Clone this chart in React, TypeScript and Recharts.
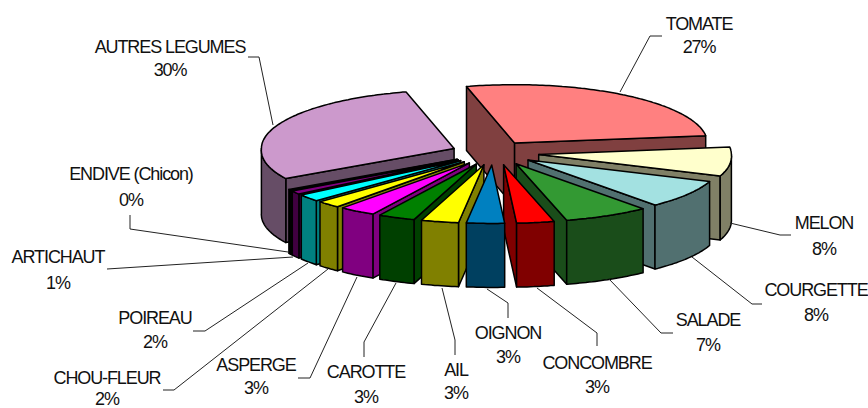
import React from 'react';
import { Pie, PieChart } from 'recharts';

// clockwise from the left corner of the big slice
const CATEGORIES = [
  'AUTRES LEGUMES', 'TOMATE', 'MELON', 'COURGETTE', 'SALADE', 'CONCOMBRE', 'OIGNON',
  'AIL', 'CAROTTE', 'ASPERGE', 'CHOU-FLEUR', 'POIREAU', 'ARTICHAUT', 'ENDIVE (Chicon)',
];
const VALUES = [29.6, 27, 8, 8, 7, 3, 3, 3, 3, 3, 2, 2, 1, 0.4];
const TOP_COLORS = [
  '#cc99cc', '#ff8080', '#ffffcc', '#a3e1e1', '#339933', '#ff0000', '#0080c0',
  '#ffff00', '#008000', '#ff00ff', '#ffff00', '#00ffff', '#800080', '#000000',
];
const SIDE_COLORS = [
  '#664d66', '#804040', '#808066', '#517070', '#1a4d1a', '#800000', '#004060',
  '#808000', '#004000', '#800080', '#808000', '#008080', '#400040', '#000000',
];

const rows = CATEGORIES.map((name, i) => ({
  name,
  value: VALUES[i],
  topColor: TOP_COLORS[i],
  sideColor: SIDE_COLORS[i],
}));

// text centre x, two line centres y, leader polyline
const LABEL_LAYOUT: Record<string, { x: number; y1: number; y2: number; line: string }> = {
  TOMATE: { x: 699, y1: 24, y2: 47, line: '620,92 650,36 662,36' },
  'AUTRES LEGUMES': { x: 170, y1: 47, y2: 70, line: '273,125 259,57 248,57' },
  'ENDIVE (Chicon)': { x: 131, y1: 174, y2: 200, line: '130,215 130,229 288,252' },
  ARTICHAUT: { x: 58, y1: 257, y2: 283, line: '107,269 293,257' },
  POIREAU: { x: 155, y1: 318, y2: 342, line: '193,331 205,331 308,263' },
  'CHOU-FLEUR': { x: 107, y1: 378, y2: 399, line: '163,390 174,390 328,269' },
  ASPERGE: { x: 256, y1: 365, y2: 388, line: '298,378 310,378 357,277' },
  CAROTTE: { x: 366, y1: 372, y2: 397, line: '364,357 364,342 396,283' },
  AIL: { x: 456, y1: 370, y2: 393, line: '455,355 455,340 442,288' },
  OIGNON: { x: 508, y1: 333, y2: 357, line: '508,318 508,303 487,289' },
  CONCOMBRE: { x: 597, y1: 363, y2: 387, line: '597,346 597,333 537,288' },
  SALADE: { x: 708, y1: 320, y2: 345, line: '673,333 661,333 609,279' },
  COURGETTE: { x: 816, y1: 290, y2: 315, line: '762,304 752,304 692,257' },
  MELON: { x: 824, y1: 223, y2: 249, line: '791,235 780,235 730,223' },
};

// small sideways corrections of the exploded slices
const NUDGE: Record<string, number> = { TOMATE: -2, MELON: 4, COURGETTE: 1, SALADE: 4, CONCOMBRE: 4 };

const TILT = 0.285;
const DEPTH = 64;
const EXPLODE = 42;
const SQUEEZE = 0.06; // the far half of the pie is a bit narrower
const START = -149; // recharts angle of the big slice's first edge
const FIRST_FRONT = CATEGORIES.indexOf('OIGNON');

const rad = (d: number) => (d * Math.PI) / 180;

function Slice3D(props: any, visible: (name: string) => boolean) {
  const { cx, cy, outerRadius: r, startAngle, endAngle } = props;
  const row = props.payload ?? props;
  if (!visible(row.name)) return <g />;

  // degrees clockwise from the top of the pie
  const a = 90 - Math.max(startAngle, endAngle);
  const b = 90 - Math.min(startAngle, endAngle);
  const mid = (a + b) / 2;
  const ox = cx + EXPLODE * Math.sin(rad(mid)) + (NUDGE[row.name] ?? 0);
  const oy = cy - EXPLODE * TILT * Math.cos(rad(mid));
  const rim = (d: number, drop = 0) => {
    const far = Math.sqrt(Math.min(1, 1 + Math.cos(rad(d))));
    return [
      ox + r * (1 - SQUEEZE * far) * Math.sin(rad(d)),
      oy - r * TILT * Math.cos(rad(d)) + drop,
    ];
  };
  const arc = (from: number, to: number, drop = 0) => {
    const pts = [];
    const n = Math.max(2, Math.ceil(Math.abs(to - from)));
    for (let i = 0; i <= n; i++) pts.push(rim(from + ((to - from) * i) / n, drop));
    return pts;
  };
  const poly = (pts: number[][]) => pts.map((p) => p.map((v) => v.toFixed(1)).join(',')).join(' ');
  const norm = (d: number) => ((d % 360) + 360) % 360;
  const style = { stroke: '#000', strokeWidth: 1.5, strokeLinejoin: 'round' as const };

  const faces = [];
  if (Math.sin(rad(a)) < 0) {
    faces.push([[ox, oy], rim(a), rim(a, DEPTH), [ox, oy + DEPTH]]);
  }
  if (Math.sin(rad(b)) > 0) {
    faces.push([[ox, oy], rim(b), rim(b, DEPTH), [ox, oy + DEPTH]]);
  }
  const shift = norm(a) - a;
  const wallFrom = Math.max(a + shift, 90);
  const wallTo = Math.min(b + shift, 270);

  return (
    <g>
      {faces.map((pts, i) => (
        <polygon key={i} points={poly(pts)} fill={row.sideColor} {...style} />
      ))}
      {wallTo > wallFrom && (
        <polygon
          points={poly([...arc(wallFrom, wallTo), ...arc(wallTo, wallFrom, DEPTH)])}
          fill={row.sideColor}
          {...style}
        />
      )}
      <polygon points={poly([[ox, oy], ...arc(a, b)])} fill={row.topColor} {...style} />
    </g>
  );
}

function renderLabel(props: any) {
  const spot = LABEL_LAYOUT[props.name];
  const textStyle = {
    fontFamily: '"Liberation Sans", Arial, sans-serif',
    fontSize: 18,
    letterSpacing: -1.1,
    fill: '#111',
  };
  return (
    <g key={props.name}>
      <polyline points={spot.line} fill="none" stroke="#222" strokeWidth={1} />
      <text x={spot.x} y={spot.y1} textAnchor="middle" dominantBaseline="central" {...textStyle}>
        {props.name}
      </text>
      <text x={spot.x} y={spot.y2} textAnchor="middle" dominantBaseline="central" {...textStyle}>
        {Math.round(props.value)}%
      </text>
    </g>
  );
}

export default function App() {
  return (
    <div style={{ position: 'absolute', left: 0, top: 0, width: 868, height: 408, background: '#fff' }}>
      <PieChart width={868} height={408} margin={{ top: 0, right: 0, bottom: 0, left: 0 }}>
        {/* back and right side, clockwise */}
        <Pie
          data={rows}
          dataKey="value"
          nameKey="name"
          cx={493}
          cy={153}
          outerRadius={205}
          startAngle={START}
          endAngle={START - 360}
          isAnimationActive={false}
          labelLine={false}
          label={false}
          shape={(p: any) => Slice3D(p, (n) => CATEGORIES.indexOf(n) < FIRST_FRONT)}
        />
        {/* left side, counter-clockwise so the front slices land on top */}
        <Pie
          data={[...rows].reverse()}
          dataKey="value"
          nameKey="name"
          cx={493}
          cy={153}
          outerRadius={205}
          startAngle={START}
          endAngle={START + 360}
          isAnimationActive={false}
          labelLine={false}
          label={renderLabel}
          shape={(p: any) => Slice3D(p, (n) => CATEGORIES.indexOf(n) >= FIRST_FRONT)}
        />
      </PieChart>
    </div>
  );
}
